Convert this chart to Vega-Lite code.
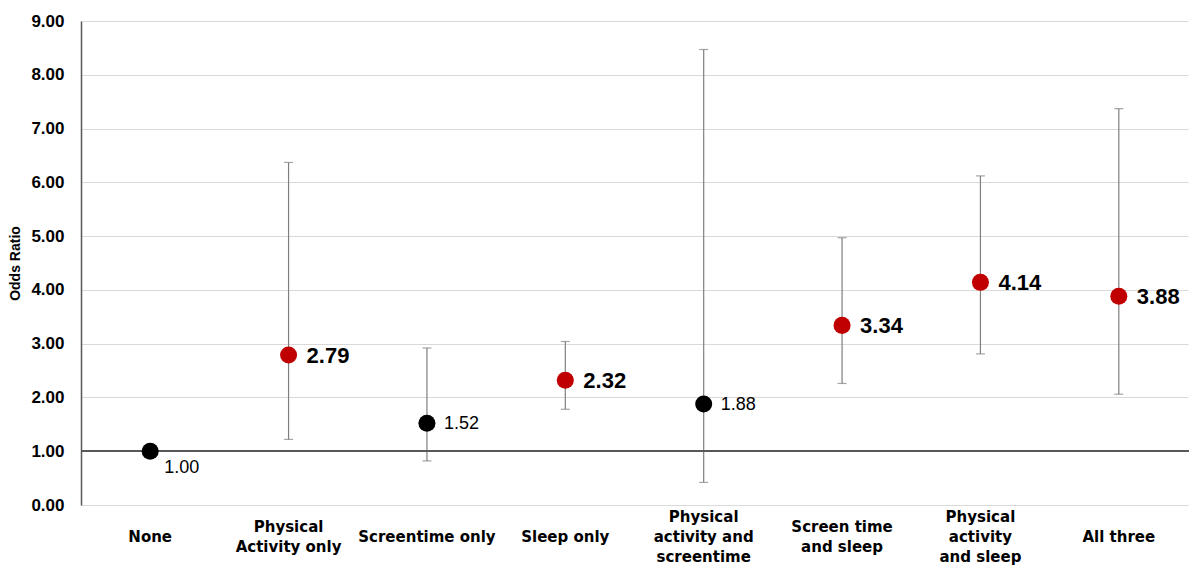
{
  "$schema": "https://vega.github.io/schema/vega-lite/v6.json",
  "width": 1189,
  "height": 568,
  "autosize": {"type": "fit", "contains": "padding"},
  "padding": {"left": 8, "top": 12, "right": 0, "bottom": 4},
  "background": "white",
  "config": {"view": {"stroke": null}},
  "data": {
    "values": [
      {"group": "None", "or": 1.00, "lower": 1.00, "upper": 1.00, "sig": "no"},
      {"group": "Physical Activity only", "or": 2.79, "lower": 1.22, "upper": 6.37, "sig": "yes"},
      {"group": "Screentime only", "or": 1.52, "lower": 0.82, "upper": 2.92, "sig": "no"},
      {"group": "Sleep only", "or": 2.32, "lower": 1.78, "upper": 3.04, "sig": "yes"},
      {"group": "Physical activity and screentime", "or": 1.88, "lower": 0.42, "upper": 8.47, "sig": "no"},
      {"group": "Screen time and sleep", "or": 3.34, "lower": 2.26, "upper": 4.97, "sig": "yes"},
      {"group": "Physical activity and sleep", "or": 4.14, "lower": 2.81, "upper": 6.12, "sig": "yes"},
      {"group": "All three", "or": 3.88, "lower": 2.06, "upper": 7.37, "sig": "yes"}
    ]
  },
  "encoding": {
    "x": {
      "field": "group",
      "type": "nominal",
      "sort": null,
      "scale": {"paddingInner": 0, "paddingOuter": 0},
      "axis": {
        "title": null,
        "domain": false,
        "ticks": false,
        "tickSize": 0,
        "labelAngle": 0,
        "labelBaseline": "top",
        "labelPadding": {
          "condition": [
            {"test": "datum.value == 'Physical activity and screentime' || datum.value == 'Physical activity and sleep'", "value": 4},
            {"test": "datum.value == 'Physical Activity only' || datum.value == 'Screen time and sleep'", "value": 14}
          ],
          "value": 24
        },
        "labelFont": "DejaVu Sans",
        "labelFontWeight": "bold",
        "labelFontSize": 15,
        "labelColor": "#000000",
        "labelLineHeight": 20,
        "labelLimit": 200,
        "labelExpr": "datum.value == 'Physical Activity only' ? ['Physical','Activity only'] : datum.value == 'Physical activity and screentime' ? ['Physical','activity and','screentime'] : datum.value == 'Screen time and sleep' ? ['Screen time','and sleep'] : datum.value == 'Physical activity and sleep' ? ['Physical','activity','and sleep'] : datum.value"
      }
    }
  },
  "layer": [
    {
      "mark": {"type": "rule", "color": "#7f7f7f", "strokeWidth": 1.2},
      "encoding": {
        "y": {
          "field": "lower",
          "type": "quantitative",
          "scale": {"domain": [0, 9], "nice": false},
          "axis": {
            "title": "Odds Ratio",
            "titleFont": "Liberation Sans",
            "titleFontSize": 14,
            "titleFontWeight": "bold",
            "titleColor": "#000000",
            "titlePadding": 8,
            "values": [0, 1, 2, 3, 4, 5, 6, 7, 8, 9],
            "format": ".2f",
            "labelFont": "Liberation Sans",
            "labelFontSize": 17,
            "labelFontWeight": "bold",
            "labelColor": "#000000",
            "labelPadding": 17,
            "ticks": false,
            "domain": true,
            "domainColor": "#595959",
            "domainWidth": 1.5,
            "grid": true,
            "gridColor": "#d9d9d9",
            "gridWidth": 1.2
          }
        },
        "y2": {"field": "upper"}
      }
    },
    {
      "mark": {"type": "tick", "color": "#7f7f7f", "size": 9, "thickness": 1.2, "orient": "horizontal"},
      "encoding": {"y": {"field": "lower", "type": "quantitative"}}
    },
    {
      "mark": {"type": "tick", "color": "#7f7f7f", "size": 9, "thickness": 1.2, "orient": "horizontal"},
      "encoding": {"y": {"field": "upper", "type": "quantitative"}}
    },
    {
      "mark": {"type": "rule", "color": "#595959", "strokeWidth": 1.5},
      "encoding": {"y": {"datum": 1}, "x": {"value": 0}, "x2": {"value": 1189}}
    },
    {
      "mark": {"type": "point", "filled": true, "opacity": 1, "size": 290, "shape": "circle"},
      "encoding": {
        "y": {"field": "or", "type": "quantitative"},
        "color": {
          "field": "sig",
          "type": "nominal",
          "scale": {"domain": ["yes", "no"], "range": ["#C00000", "#000000"]},
          "legend": null
        }
      }
    },
    {
      "transform": [{"filter": "datum.sig == 'yes'"}],
      "mark": {"type": "text", "align": "left", "baseline": "middle", "dx": 18, "dy": 1, "font": "Liberation Sans", "fontSize": 22, "fontWeight": "bold", "color": "#000000"},
      "encoding": {
        "y": {"field": "or", "type": "quantitative"},
        "text": {"field": "or", "type": "quantitative", "format": ".2f"}
      }
    },
    {
      "transform": [{"filter": "datum.sig == 'no' && datum.group != 'None'"}],
      "mark": {"type": "text", "align": "left", "baseline": "middle", "dx": 17, "dy": 1, "font": "Liberation Sans", "fontSize": 18, "color": "#000000"},
      "encoding": {
        "y": {"field": "or", "type": "quantitative"},
        "text": {"field": "or", "type": "quantitative", "format": ".2f"}
      }
    },
    {
      "transform": [{"filter": "datum.group == 'None'"}],
      "mark": {"type": "text", "align": "left", "baseline": "middle", "dx": 14, "dy": 17, "font": "Liberation Sans", "fontSize": 18, "color": "#000000"},
      "encoding": {
        "y": {"field": "or", "type": "quantitative"},
        "text": {"field": "or", "type": "quantitative", "format": ".2f"}
      }
    }
  ]
}
